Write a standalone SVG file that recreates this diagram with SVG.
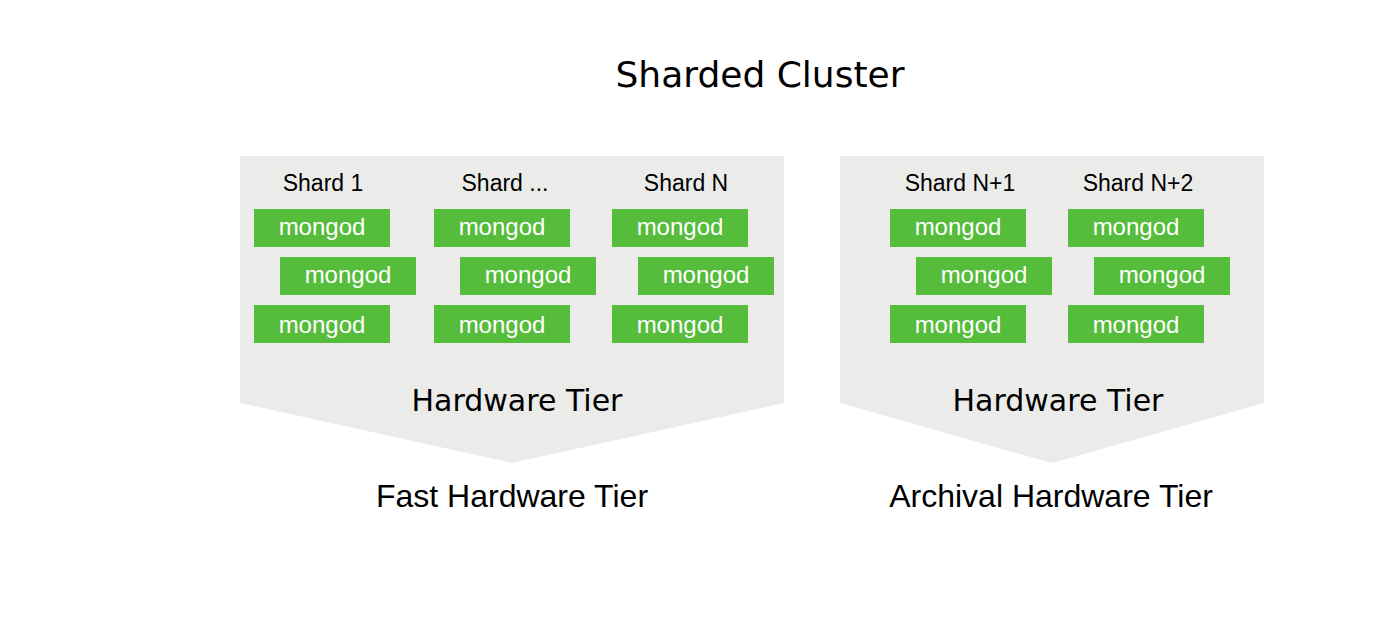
<svg xmlns="http://www.w3.org/2000/svg" width="1392" height="626" viewBox="0 0 1392 626">
<style>
.panel{fill:#EBECEA}
.m rect{fill:#56BC3B}
.m text{fill:#FFFFFF;font-family:"Liberation Sans",Arial,sans-serif;font-size:24px;text-anchor:middle}
.sl{fill:#000;font-family:"Liberation Sans",Arial,sans-serif;font-size:23px;text-anchor:middle}
.ht{fill:#000;font-family:"DejaVu Sans",sans-serif;font-size:30px;text-anchor:middle}
.tl{fill:#000;font-family:"Liberation Sans",Arial,sans-serif;font-size:32px;text-anchor:middle}
.title{fill:#000;font-family:"DejaVu Sans",sans-serif;font-size:36px;text-anchor:middle}
</style>
<rect width="1392" height="626" fill="#FFFFFF"/>
<text class="title" x="760" y="87">Sharded Cluster</text>
<g id="fast-tier">
<polygon class="panel" points="240,156 784,156 784,403 512,463 240,403"/>
<text class="ht" x="517" y="411">Hardware Tier</text>
<text class="tl" x="512" y="507">Fast Hardware Tier</text>
</g>
<g id="archival-tier">
<polygon class="panel" points="840,156 1264,156 1264,403 1052,463 840,403"/>
<text class="ht" x="1058" y="411">Hardware Tier</text>
<text class="tl" x="1051" y="507">Archival Hardware Tier</text>
</g>
<g id="shard-1">
<text class="sl" x="323" y="191">Shard 1</text>
<g class="m"><rect x="254" y="209" width="136" height="38"/><text x="322" y="235">mongod</text></g>
<g class="m"><rect x="280" y="257" width="136" height="38"/><text x="348" y="283">mongod</text></g>
<g class="m"><rect x="254" y="305" width="136" height="38"/><text x="322" y="333">mongod</text></g>
</g>
<g id="shard-dots">
<text class="sl" x="505" y="191">Shard ...</text>
<g class="m"><rect x="434" y="209" width="136" height="38"/><text x="502" y="235">mongod</text></g>
<g class="m"><rect x="460" y="257" width="136" height="38"/><text x="528" y="283">mongod</text></g>
<g class="m"><rect x="434" y="305" width="136" height="38"/><text x="502" y="333">mongod</text></g>
</g>
<g id="shard-n">
<text class="sl" x="686" y="191">Shard N</text>
<g class="m"><rect x="612" y="209" width="136" height="38"/><text x="680" y="235">mongod</text></g>
<g class="m"><rect x="638" y="257" width="136" height="38"/><text x="706" y="283">mongod</text></g>
<g class="m"><rect x="612" y="305" width="136" height="38"/><text x="680" y="333">mongod</text></g>
</g>
<g id="shard-n1">
<text class="sl" x="960" y="191">Shard N+1</text>
<g class="m"><rect x="890" y="209" width="136" height="38"/><text x="958" y="235">mongod</text></g>
<g class="m"><rect x="916" y="257" width="136" height="38"/><text x="984" y="283">mongod</text></g>
<g class="m"><rect x="890" y="305" width="136" height="38"/><text x="958" y="333">mongod</text></g>
</g>
<g id="shard-n2">
<text class="sl" x="1138" y="191">Shard N+2</text>
<g class="m"><rect x="1068" y="209" width="136" height="38"/><text x="1136" y="235">mongod</text></g>
<g class="m"><rect x="1094" y="257" width="136" height="38"/><text x="1162" y="283">mongod</text></g>
<g class="m"><rect x="1068" y="305" width="136" height="38"/><text x="1136" y="333">mongod</text></g>
</g>
<g id="connectors"/>
</svg>
